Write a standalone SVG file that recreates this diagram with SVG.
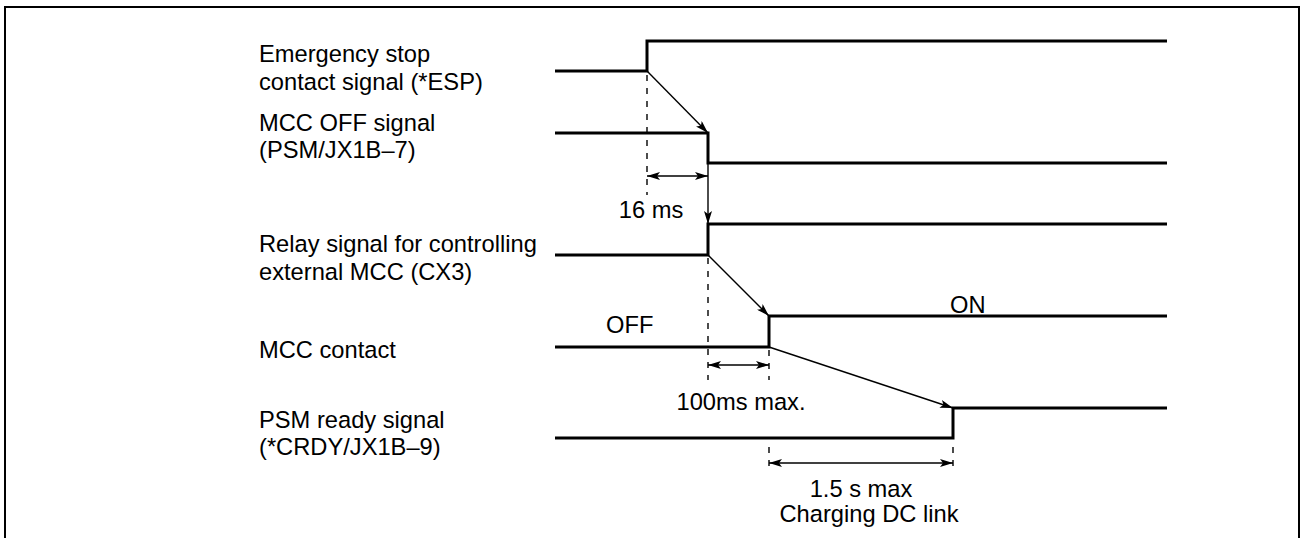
<svg xmlns="http://www.w3.org/2000/svg" width="1302" height="538" viewBox="0 0 1302 538">
<style>
text{font-family:"Liberation Sans",Arial,sans-serif;font-size:23.7px;fill:#000}
.sig{fill:none;stroke:#000;stroke-width:3}
.arr{fill:none;stroke:#000;stroke-width:1.4}
.dash{fill:none;stroke:#000;stroke-width:1.4;stroke-dasharray:6 7}
.mid{text-anchor:middle}
</style>
<defs>
<marker id="ah" viewBox="0 0 13 8" refX="13" refY="4" markerWidth="13" markerHeight="8" markerUnits="userSpaceOnUse" orient="auto-start-reverse">
<path d="M0,0 L13,4 L0,8 L3,4 Z" fill="#000"/>
</marker>
</defs>
<rect width="1302" height="538" fill="#fff"/>
<path d="M5,545 V7 H1299 V545" fill="none" stroke="#000" stroke-width="2"/>

<g id="sig-esp">
<text x="259" y="62">Emergency stop</text>
<text x="259" y="90">contact signal (*ESP)</text>
<path class="sig" d="M555,71 H647 V41 H1167"/>
</g>
<g id="sig-mccoff">
<text x="259" y="131">MCC OFF signal</text>
<text x="259" y="158">(PSM/JX1B–7)</text>
<path class="sig" d="M555,133 H708 V163 H1167"/>
</g>
<g id="sig-relay">
<text x="259" y="252">Relay signal for controlling</text>
<text x="259" y="280">external MCC (CX3)</text>
<path class="sig" d="M555,255 H708 V224 H1167"/>
</g>
<g id="sig-mcc">
<text x="259" y="358">MCC contact</text>
<text x="606" y="333">OFF</text>
<text x="950" y="313">ON</text>
<path class="sig" d="M555,347 H769 V316 H1167"/>
</g>
<g id="sig-ready">
<text x="259" y="428">PSM ready signal</text>
<text x="259" y="455">(*CRDY/JX1B–9)</text>
<path class="sig" d="M555,438 H953 V408 H1167"/>
</g>

<g id="connectors">
<path class="dash" d="M647,75 V195"/>
<path class="dash" d="M708,258 V380"/>
<path class="dash" d="M769,350 V380"/>
<path class="dash" d="M769,447 V470"/>
<path class="dash" d="M953,447 V470"/>
<path class="arr" d="M647,71 L708,133" marker-end="url(#ah)"/>
<path class="arr" d="M708,163 V224" marker-end="url(#ah)"/>
<path class="arr" d="M708,255 L769,316" marker-end="url(#ah)"/>
<path class="arr" d="M769,347 L953,408" marker-end="url(#ah)"/>
<path class="arr" d="M647,176 H708" marker-start="url(#ah)" marker-end="url(#ah)"/>
<path class="arr" d="M708,365 H769" marker-start="url(#ah)" marker-end="url(#ah)"/>
<path class="arr" d="M769,463 H953" marker-start="url(#ah)" marker-end="url(#ah)"/>
</g>

<g id="labels">
<text class="mid" x="651" y="218">16 ms</text>
<text class="mid" x="741" y="410">100ms max.</text>
<text class="mid" x="861" y="497">1.5 s max</text>
<text class="mid" x="869" y="522">Charging DC link</text>
</g>
</svg>
